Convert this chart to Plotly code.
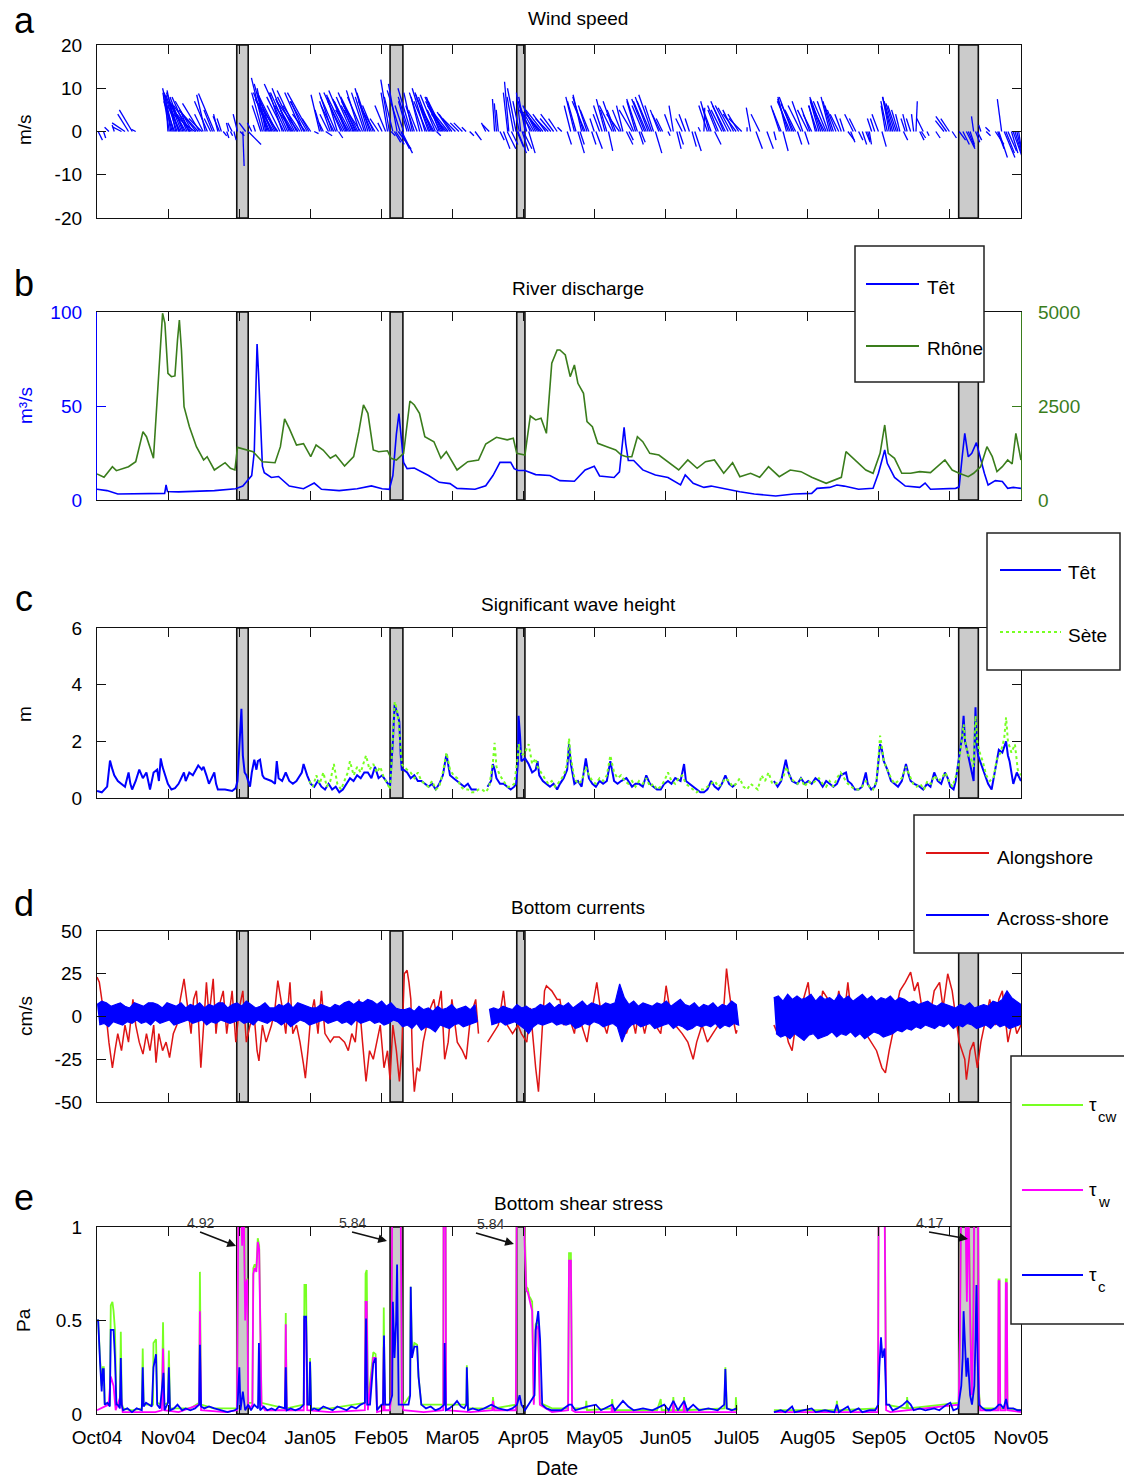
import plotly.graph_objects as go

# ---------------- data (days since start of record, Oct 2004) ----------------
month_labels = ["Oct04", "Nov04", "Dec04", "Jan05", "Feb05", "Mar05", "Apr05",
                "May05", "Jun05", "Jul05", "Aug05", "Sep05", "Oct05", "Nov05"]
N_DAYS = 396
storm_start = [59.9, 125.6, 179.9, 369.3]
storm_end = [64.8, 131.1, 183.4, 377.7]

# wind sticks: (day, u m/s, v m/s)
wind_sticks = [
    (0.5, 1, -2), (2.8, 0.5, -1.5), (5.1, -1, 1), (7.4, -0.5, 1.5), (10.5, -2, 1), (12.0, -3, 2),
    (13.5, -2.5, 4), (15.1, -3, 5), (16.6, -1, 0.5),
    (30.4, -0.5, 8), (31.6, -1, 6), (32.7, -2.5, 10), (33.7, -2, 9.5), (35.0, -3, 8.5), (35.7, -3, 6),
    (36.8, -3, 8), (38.0, -4, 7), (39.3, -2, 5), (40.3, -4, 6), (41.9, -5, 4), (43.4, -4.5, 5),
    (44.9, -3, 3), (46.4, -2, 8.5), (48.7, -1.5, 3), (50.3, -3.7, 8.8), (51.8, -1, 4), (53.3, -1, 3),
    (54.1, 0.8, -1), (55.6, 0.5, -1.5), (56.4, -0.5, 2), (57.9, -1, 2), (58.7, 0.5, -2),
    (60.2, -1, 4), (61.3, 1, -1), (62.5, 0.3, -8), (63.7, -1.5, 2), (64.8, 3, -3),
    (66.3, -1, 2), (67.9, -0.5, 1.5), (70.2, -2, 6), (71.7, -3, 12.4), (72.9, -3, 11), (74.0, -3, 7),
    (75.1, -4, 7.5), (76.3, -4, 8), (77.5, -5, 7), (79.4, -3, 9), (80.9, -5, 11), (82.4, -4, 10),
    (83.6, -4, 6), (84.7, -4, 8), (86.2, -5, 7), (87.8, -4, 9), (89.3, -3, 4), (90.8, -5, 9),
    (91.6, -2, 3), (93.1, 1, -0.5), (95.4, -2, 8.5), (97.0, -1, 2), (98.0, 1.5, -1), (99.2, -2, 4),
    (100.8, -3, 9), (102.3, -3.5, 8), (103.5, 1, -1.5), (104.6, -4, 9), (106.1, -4, 8), (107.2, -3, 7),
    (108.4, -4, 7.5), (109.7, -2, 5), (110.7, -4, 9), (111.8, -4, 8), (113.0, -4, 6), (114.6, -3, 9),
    (116.1, -3, 10), (117.6, -3, 7), (119.1, -3, 5), (120.7, -2, 3), (122.2, -1, 2), (123.7, -2.5, 6),
    (125.3, -2, 12), (126.0, 1, -1), (126.8, -2, 8), (128.0, 2, -3), (129.1, 3, -4), (129.9, -3, 9.5),
    (130.6, 2.5, -5), (131.4, -2, 6), (132.9, -2, 7), (134.5, -3, 10), (136.0, -2, 6), (138.3, -2, 8),
    (140.6, -3, 10), (142.1, -3, 8.5), (143.3, -3, 8), (144.4, -4, 7.5), (145.5, 1, -1), (146.7, -3, 8),
    (147.9, -4, 8), (149.0, -4, 6), (150.5, -4, 5), (152.1, -3, 4), (153.6, -3, 3), (155.1, -2, 2),
    (156.6, -2, 2), (158.2, -1, 1), (159.7, 1, -1), (162.0, 1.5, -2), (166.6, -1, 2), (168.1, -1.5, 1.5),
    (170.4, -0.5, 7.5), (172.0, -0.5, 5), (172.7, 1, -2), (174.2, 1.5, -4), (175.8, 2, -4),
    (176.5, -1, 11.5), (177.6, 1.5, -3), (179.6, -2, 10), (180.4, 2, -5), (181.6, -1, 9), (182.7, 2, -4),
    (184.2, -2, 7), (185.0, 1.5, -5), (186.5, -3, 5), (188.0, -3, 6), (189.6, -3, 4), (191.1, -4, 5),
    (193.4, -3, 3), (195.7, -3, 4), (197.2, -2, 3),
    (199.2, -1, 1), (201.5, 1, -3), (204.6, -2, 8), (206.1, 1.5, -5), (207.7, -2, 8.5), (209.2, -3, 7),
    (210.8, -2, 5), (213.1, -1, 3), (213.8, 1.5, -4), (215.4, -1.5, 4), (217.7, -2, 7.5), (219.2, 1, -4.5),
    (220.8, -3, 6), (222.3, -2, 5), (223.9, -3, 4), (225.4, -1.5, 6), (226.9, 1.5, -3), (229.3, -3, 5),
    (230.8, -2, 7), (231.6, -2.5, 7.5), (233.1, 1, -2.5), (234.7, -3, 7.5), (236.2, -3, 8), (237.7, -3, 8.5),
    (239.3, 1.5, -5), (240.8, -2, 5), (242.4, -1.5, 3), (244.7, 0.5, -1), (247.0, -1, 6), (248.5, 1, -4),
    (250.8, -1.5, 3), (253.9, -1, 3), (256.2, 1.5, -4.5), (258.6, -0.5, 1), (260.1, 0.2, 5.5),
    (261.6, -2, 6), (263.2, -2, 5.5), (264.7, 1.5, -3), (266.3, -2.5, 6), (267.8, -2.5, 5), (269.3, -3, 6),
    (271.7, -3, 5.5), (273.9, -3, 4), (276.3, -3, 3), (278.6, 0, 1), (280.1, -1, 5.5), (282.4, 1.5, -4),
    (284.0, -2, 4), (287.1, 1.5, -4), (290.1, 0.5, -2), (292.5, -2, 6), (294.0, 1.2, -4.5), (295.5, -2, 8),
    (297.1, -3, 7), (298.6, -3, 6.5), (300.2, 1, -3), (301.7, -3, 6), (303.3, 1, -3), (304.8, -2.5, 5),
    (306.3, -2, 4), (307.9, -1.5, 6), (309.4, -2, 7), (311.0, -3, 8), (312.5, -3, 7), (314.0, -2, 8),
    (315.6, -2, 6), (317.9, -2, 4), (320.2, -1, 3), (321.8, 1.5, -2), (324.1, -2, 4), (326.4, 1, -2),
    (329.5, 1, -2.5), (331.0, 0.5, -3), (333.3, -1, 3), (334.9, -1.5, 4), (336.4, 1, -3.5), (337.9, -1, 6),
    (339.5, -1.5, 8), (341.0, -2, 7), (342.6, -2, 6), (344.1, -1, 4), (345.6, 1, -2), (347.2, -1, 4),
    (348.7, -1, 3), (351.0, 0.3, 7), (352.6, 1, -2), (354.1, -1.5, 3), (355.7, 0.5, -1), (359.5, 1, -1.5),
    (364.1, -2.5, 3.5), (366.5, 1, -1.5), (369.5, 1.5, -2), (371.1, 1.5, -3), (372.6, 2, -4),
    (374.2, 1, -3), (375.7, -0.5, 3.5), (377.3, 1, -2), (378.8, -0.5, 1.5), (381.1, 1, -1), (382.6, -1, 1),
    (385.0, 2, -3), (386.5, 2, -6), (387.7, -1, 7.5), (388.8, 2.5, -6), (390.4, 2, -4.5), (391.9, 1.5, -5),
    (393.4, 2, -6.5), (395.0, 1, -6.5),
    (31.0, -1.5, 9), (32.2, -2, 8), (33.2, -2.5, 7), (34.3, -3, 9), (35.3, -2.5, 7), (36.2, -3.5, 9),
    (37.4, -3, 6.5), (38.6, -3.5, 8), (39.8, -3, 4), (40.9, -4, 7), (42.5, -4, 5), (44.0, -4, 6.5),
    (45.5, -2, 4), (47.3, -3, 7), (49.5, -2, 5), (52.5, -1.5, 3.5), (57.2, 0.5, -1),
    (70.9, -2.5, 9), (72.3, -2, 10), (73.5, -3.5, 9), (74.6, -3, 8.5), (75.7, -3.5, 6), (76.9, -4.5, 9),
    (78.4, -3, 6), (80.1, -4, 8), (81.7, -4, 9), (83.0, -3.5, 7.5), (84.1, -3, 5), (85.5, -4.5, 9.5),
    (87.0, -4, 6), (88.6, -3, 7), (90.1, -4, 7),
    (96.2, -1.5, 5), (100.0, -2.5, 7), (101.5, -3, 6), (103.0, -2.5, 8.5), (105.3, -3.5, 7), (106.7, -4, 9.5),
    (107.8, -3, 5), (109.0, -3.5, 8), (110.2, -3, 6), (111.2, -3.5, 7), (112.4, -3, 9.5), (113.8, -3.5, 8),
    (115.3, -2.5, 8), (116.9, -3, 9), (118.4, -2.5, 6), (124.5, -1.5, 9), (127.4, 1.5, -2.5),
    (128.6, -2, 11), (130.2, 2, -4),
    (133.7, -2.5, 8), (135.2, -2, 9), (137.2, -2, 5), (139.4, -3, 9), (141.3, -3, 7), (142.7, -3.5, 9),
    (143.9, -3, 6), (145.0, -3.5, 8.5), (146.1, -2.5, 5), (147.3, -3.5, 7), (148.4, -3.5, 7),
    (149.8, -3.5, 4), (151.3, -3, 4.5),
    (171.2, -0.5, 6.5), (176.0, -1, 9), (178.5, -1.5, 8), (180.0, 1.5, -3.5), (181.0, -1.5, 7),
    (182.2, 1.5, -4.5), (183.5, -1.5, 8), (185.7, -2.5, 6), (187.3, -2.5, 4.5), (188.8, -3, 5),
    (190.3, -3.5, 4), (192.3, -3, 4), (194.5, -2.5, 3),
    (203.0, -1.5, 6), (205.3, -2, 7), (207.0, 1, -3), (208.5, -2.5, 8), (210.0, -2, 6), (212.0, 1, -3),
    (216.5, -2, 6), (218.5, -1.5, 5), (221.5, -2.5, 7), (224.6, -2, 5), (228.0, 1, -2), (230.0, -2.5, 6),
    (232.3, 1, -3), (233.9, -2.5, 6), (235.4, -3, 7), (237.0, -3, 7), (238.5, -2, 6), (241.6, -2, 4),
    (246.0, -1.5, 4), (249.5, 1, -3), (252.2, -1.5, 4), (255.0, 1, -3.5), (262.4, -2, 7), (265.5, -2, 5),
    (268.6, -3, 7), (270.5, -3, 6), (272.8, -2.5, 5), (275.0, -2.5, 4),
    (293.2, -2, 5), (296.3, -2.5, 7.5), (297.9, -3, 8), (299.4, -2.5, 5), (302.5, -2.5, 7), (305.5, -2, 5.5),
    (308.6, -2, 6), (310.2, -2.5, 7.5), (311.8, -3, 6), (313.3, -2.5, 7), (314.8, -2, 7), (316.7, -2, 5),
    (319.0, -1.5, 4), (323.0, 1, -2.5), (325.2, -1.5, 3), (328.0, 1, -3), (330.3, 0.5, -2), (332.0, -1, 3),
    (338.7, -1.5, 7), (340.3, -2, 8), (341.8, -2, 6.5), (343.3, -1.5, 5), (346.4, -1, 3), (350.0, -0.5, 4),
    (353.3, 1, -1.5), (363.0, -2, 2.5), (365.3, -2, 3), (373.4, 1.5, -3.5), (376.5, 1, -2.5),
    (386.0, 1.5, -4), (389.5, 2, -5), (392.6, 2, -5.5), (394.2, 1.5, -6),
]

# river discharge (day, m3/s)
tet_discharge = [
    (0, 5.7), (4.3, 5.0), (8.9, 3.2), (22.7, 3.2), (29.0, 3.5), (29.6, 8.0), (30.2, 4.5), (31.9, 4.4),
    (35.0, 4.3), (50.3, 5.0), (59.4, 6.0), (62.5, 7.4), (66.3, 13), (67.4, 25.5), (68.6, 83), (69.2, 68),
    (69.9, 43), (70.9, 18), (71.7, 14.5), (74.7, 12), (77.8, 12.5), (79.3, 11), (82.4, 7.4), (88.5, 6),
    (93.1, 9), (96.2, 5.7), (103.8, 5), (111.5, 6), (117.6, 7.5), (122.2, 6), (125.3, 5.7), (126.8, 13),
    (128.3, 35), (129.4, 46), (130.2, 35), (131.4, 20), (132.9, 16.7), (136.0, 17), (142.1, 13),
    (146.7, 9.4), (151.3, 8.7), (154.3, 6.2), (162.0, 5.7), (166.6, 7.6), (169.7, 13), (172.7, 20),
    (177.3, 20), (178.8, 16.7), (180.4, 15.7), (183.4, 15.7), (188.0, 13.5), (194.1, 13), (198.4, 10.3),
    (204.6, 10), (209.2, 16), (213.1, 18), (215.4, 12.8), (221.6, 12), (223.9, 15), (225.0, 28),
    (225.9, 38.6), (226.6, 30), (227.7, 21), (230.0, 21), (233.9, 16), (239.3, 13.3), (244.7, 12),
    (250.1, 8), (252.1, 13.3), (255.5, 8.9), (260.1, 6.7), (263.2, 7.4), (269.4, 5.7), (275.5, 4.4),
    (281.7, 3.2), (290.9, 2.1), (298.6, 3.2), (306.3, 3.5), (308.6, 6.2), (314.0, 6.7), (317.1, 8),
    (320.2, 7.4), (326.4, 5.7), (332.6, 6.2), (334.9, 14.2), (336.9, 23), (337.6, 26.6), (338.7, 19.5),
    (341.8, 12), (346.4, 7.4), (352.6, 6.7), (354.9, 9), (357.2, 5.7), (368.0, 6.2), (369.5, 7),
    (370.8, 23), (371.9, 35.5), (373.4, 23), (374.9, 24.8), (376.9, 30.5), (378.0, 24.8), (380.3, 14.2),
    (381.9, 8), (385.0, 10.3), (388.0, 9.8), (390.3, 6.2), (392.7, 6.7), (396.0, 6.2),
]
rhone_discharge = [
    (0, 692), (3, 603), (6.6, 886), (8.3, 780), (13.5, 886), (16.6, 1019), (19.7, 1817), (21.2, 1684),
    (24.2, 1109), (25.8, 2748), (28.1, 4966), (29.1, 4700), (30.4, 3370), (31.9, 3280), (33.4, 3300),
    (34.5, 4256), (35.3, 4788), (36.2, 3990), (37.3, 2482), (39.6, 1950), (42.6, 1418), (45.7, 1064),
    (47.2, 1152), (50.3, 798), (54.9, 992), (57.2, 843), (59.1, 798), (60.2, 1400), (64, 1330),
    (66.9, 1285), (70.9, 1019), (76.3, 992), (78.6, 1418), (80.4, 2155), (82.4, 1906), (85.5, 1463),
    (88.5, 1500), (91.6, 1152), (93.9, 1463), (96.9, 1330), (100, 1109), (102.3, 1197), (106.1, 904),
    (110, 1152), (112.2, 1817), (114.2, 2527), (116.1, 2305), (118.4, 1330), (120.7, 1285), (124.5, 1310),
    (126, 1109), (128.3, 1064), (131.4, 1241), (134.1, 2633), (136, 2527), (138.2, 2305), (140.5, 1684),
    (144.4, 1550), (147.4, 1109), (149.7, 1285), (154.3, 798), (158.9, 1019), (163.5, 1064), (166.6, 1490),
    (171.2, 1667), (175.8, 1600), (178.4, 1640), (179.9, 1241), (183.4, 1197), (185.7, 2234), (188, 2128),
    (190.3, 2172), (192.6, 1773), (194.9, 3636), (197.2, 3990), (198.4, 3990), (200.7, 3857), (202.8, 3280),
    (204.6, 3591), (206.1, 3104), (208.5, 2838), (210, 2083), (212.3, 1950), (214.6, 1508), (218.5, 1418),
    (222.3, 1330), (224.7, 1197), (226.9, 1152), (229.2, 1152), (231.6, 1684), (233.9, 1551), (236.9, 1241),
    (240.8, 1197), (244.7, 1019), (249.3, 798), (253.2, 1064), (257.2, 843), (260.8, 1019), (264.6, 1064),
    (268.6, 710), (272.4, 992), (275.5, 620), (280.1, 710), (284, 603), (287.8, 886), (292.4, 620),
    (297.1, 798), (301.7, 754), (306.3, 603), (312.5, 443), (317.1, 549), (319, 603), (321, 1285),
    (324.9, 1064), (329.5, 798), (332.6, 710), (335.6, 1241), (337.6, 1995), (339.1, 1241), (341.8, 1109),
    (344.9, 710), (348.7, 710), (352.6, 754), (357.2, 730), (360.3, 886), (363.4, 1064), (366.5, 798),
    (369.5, 710), (373.4, 620), (375.7, 710), (378.7, 886), (381.4, 1418), (383.7, 1152), (385.7, 754),
    (388, 886), (390.3, 1064), (392.2, 957), (393.8, 1773), (396, 1064),
]

# significant wave height (day, m)
tet_hs = [
    (0, 0.25), (2.05, 0.2), (4.35, 0.4), (5.57, 1.32), (6.64, 1.0), (7.41, 0.8), (8.94, 0.6), (10.47, 0.5),
    (12.0, 0.4), (13.53, 0.9), (14.3, 0.5), (15.06, 0.3), (16.59, 0.6), (18.12, 1.0), (19.65, 0.7),
    (21.18, 0.9), (22.72, 0.3), (24.25, 0.9), (25.78, 1.0), (26.54, 0.6), (27.31, 1.4), (28.07, 1.1),
    (28.84, 0.9), (30.37, 0.5), (31.9, 0.3), (33.43, 0.35), (34.96, 0.5), (37.26, 0.9), (38.02, 0.6),
    (39.55, 0.9), (41.08, 0.8), (43.38, 1.15), (44.91, 1.0), (45.67, 1.1), (46.9, 0.8), (47.97, 0.5),
    (50.27, 0.9), (51.03, 0.5), (51.8, 0.3), (54.86, 0.3), (57.92, 0.25), (59.45, 0.35), (60.21, 0.6),
    (61.29, 2.0), (61.9, 3.15), (62.51, 1.5), (63.28, 0.9), (64.04, 0.8), (65.57, 0.4), (66.34, 0.9),
    (67.41, 1.35), (68.33, 1.0), (68.94, 1.3), (69.86, 1.35), (70.93, 0.8), (71.69, 0.7), (74.76, 0.6),
    (76.29, 0.5), (77.05, 1.3), (77.82, 0.7), (79.35, 0.6), (80.88, 0.9), (82.41, 0.6), (83.94, 0.5),
    (85.47, 0.6), (87.77, 0.9), (88.53, 1.2), (90.06, 0.8), (91.59, 0.5), (93.12, 0.4), (94.65, 0.6),
    (96.18, 0.4), (97.71, 0.3), (99.24, 0.5), (100.78, 0.3), (102.31, 0.4), (103.84, 0.2), (105.37, 0.3),
    (106.9, 0.5), (108.43, 0.7), (109.96, 0.6), (111.49, 0.8), (113.02, 0.7), (114.55, 0.9), (116.08, 0.9),
    (117.61, 0.7), (119.14, 1.1), (120.67, 0.7), (122.2, 0.8), (123.73, 0.6), (125.57, 0.4), (126.8, 2.0),
    (127.56, 3.3), (128.63, 3.0), (129.55, 2.7), (130.16, 1.5), (130.62, 1.0), (131.39, 1.0), (132.92, 0.9),
    (134.45, 0.7), (135.98, 0.8), (137.5, 0.6), (139.04, 0.6), (140.57, 0.5), (142.1, 0.4), (143.63, 0.5),
    (145.17, 0.3), (146.7, 0.5), (148.23, 0.8), (149.76, 1.55), (150.52, 1.2), (151.29, 0.8), (152.82, 0.7),
    (154.35, 0.6), (155.88, 0.5), (157.41, 0.4), (158.94, 0.5), (160.47, 0.3), (162.77, 0.3), (164.5, None),
    (167.36, 0.4), (168.89, 0.6), (169.65, 1.2), (170.42, 1.0), (171.18, 0.7), (172.71, 0.5), (174.24, 0.5),
    (175.78, 0.4), (177.31, 0.3), (178.84, 0.4), (179.6, 0.5), (180.37, 1.2), (180.67, 2.9), (181.3, 2.2),
    (181.9, 1.3), (183.43, 1.4), (184.96, 1.2), (186.49, 0.9), (188.02, 1.0), (188.79, 1.3), (189.55, 0.8),
    (191.08, 0.6), (192.61, 0.5), (194.14, 0.4), (195.67, 0.5), (197.2, 0.3),
    (198.4, 0.5), (200.0, 0.7), (201.5, 1.0), (202.3, 1.9), (203.1, 1.2), (204.6, 0.5), (206.1, 0.6),
    (207.7, 0.4), (209.5, 1.4), (210.8, 0.7), (212.3, 0.5), (213.8, 0.4), (215.4, 0.6), (216.9, 0.5),
    (218.5, 0.6), (220.0, 1.3), (221.6, 0.6), (223.1, 0.5), (224.6, 0.6), (226.9, 0.7), (229.3, 0.4),
    (230.8, 0.5), (232.3, 0.5), (233.9, 0.4), (235.4, 0.8), (237.0, 0.5), (238.5, 0.4), (240.0, 0.3),
    (241.6, 0.3), (243.1, 0.5), (244.7, 0.6), (246.2, 0.5), (247.8, 0.7), (250.1, 0.6), (251.6, 1.2),
    (252.4, 0.6), (253.9, 0.5), (255.5, 0.4), (257.0, 0.3), (258.6, 0.2), (260.1, 0.2), (261.6, 0.3),
    (263.2, 0.6), (264.7, 0.4), (266.3, 0.3), (267.8, 0.5), (269.3, 0.8), (270.9, 0.5), (272.4, 0.4),
    (273.9, 0.5), (280.0, None), (290.1, 0.6), (291.7, 0.4), (293.2, 0.6), (295.2, 1.35), (296.3, 0.9),
    (297.9, 0.6), (300.2, 0.5), (301.7, 0.7), (303.3, 0.5), (304.8, 0.6), (306.3, 0.5), (307.9, 0.7),
    (309.4, 0.6), (311.0, 0.4), (312.5, 0.6), (314.0, 0.5), (315.6, 0.4), (317.1, 0.5), (318.7, 0.8),
    (321.0, 0.9), (321.8, 0.6), (323.3, 0.5), (324.8, 0.3), (326.4, 0.3), (327.9, 0.4), (329.5, 0.9),
    (330.3, 0.5), (331.8, 0.3), (333.3, 0.4), (334.1, 0.6), (334.9, 1.3), (335.6, 1.9), (336.4, 1.7),
    (337.2, 1.3), (338.7, 1.0), (340.3, 0.6), (341.8, 0.5), (343.3, 0.4), (344.9, 0.6), (346.7, 1.2),
    (347.9, 0.8), (348.7, 0.6), (350.3, 0.5), (352.6, 0.4), (354.1, 0.3), (355.7, 0.5), (357.2, 0.4),
    (358.8, 0.9), (360.3, 0.6), (361.8, 0.5), (363.4, 0.9), (364.6, 0.7), (365.7, 0.4), (367.1, 0.3),
    (368.0, 0.6), (369.5, 1.5), (370.8, 2.2), (371.4, 2.9), (372.0, 2.0), (372.6, 1.8), (374.2, 1.2),
    (375.7, 0.6), (376.5, 3.2), (376.9, 2.0), (377.6, 1.5), (379.6, 1.0), (381.9, 0.5), (383.4, 0.3),
    (385.0, 1.0), (386.5, 1.7), (388.0, 1.6), (388.8, 1.8), (389.6, 2.0), (390.4, 1.5), (391.1, 1.3),
    (392.7, 0.5), (394.2, 0.9), (396.0, 0.6),
]
sete_hs = [
    (91, 0.6), (92.5, 0.4), (94, 0.8), (95.4, 0.5), (97, 0.9), (98.5, 0.4), (100, 0.6), (101.5, 1.2),
    (103, 0.5), (104.6, 0.3), (106, 0.6), (107.5, 0.9), (108.4, 1.3), (110, 0.8), (111.5, 1.1), (113, 0.9),
    (114.5, 1.3), (115.3, 1.5), (116.8, 1.0), (118.4, 1.2), (119.9, 0.9), (121.4, 1.1), (123, 0.7),
    (124.5, 0.5), (125.6, 0.3), (126.8, 2.2), (127.6, 3.4), (128.6, 3.1), (129.5, 2.5), (130.6, 1.2),
    (131.4, 1.1), (132.9, 1.0), (134.4, 0.9), (136, 0.7), (137.5, 0.9), (139, 0.6), (140.6, 0.5),
    (142.1, 0.4), (143.6, 0.6), (145.2, 0.3), (146.7, 0.4), (148.2, 0.9), (149.8, 1.6), (151.3, 1.0),
    (152.8, 0.8), (154.4, 0.7), (155.9, 0.4), (157.4, 0.3), (159, 0.3), (160.5, 0.2), (162, 0.2),
    (163.5, 0.3), (165, 0.3), (166.6, 0.2), (168.1, 0.4), (169.7, 1.3), (170.4, 1.95), (171.2, 1.1),
    (172.7, 0.8), (174.2, 0.6), (175.8, 0.4), (177.3, 0.4), (178.8, 0.5), (180.4, 1.5), (180.7, 1.9),
    (181.9, 1.5), (183.4, 1.6), (185, 1.9), (186.5, 1.2), (188, 1.4), (188.8, 1.1), (190.3, 0.9),
    (191.8, 0.7), (193.4, 0.5), (194.9, 0.6), (196.4, 0.4), (198.4, 0.6), (200, 0.8), (201.5, 1.2),
    (202.3, 2.1), (203.1, 1.4), (204.6, 0.7), (206.1, 0.5), (207.7, 0.6), (209.5, 1.1), (210.8, 0.8),
    (212.3, 0.6), (213.8, 0.5), (215.4, 0.7), (216.9, 0.6), (218.5, 0.8), (220, 1.5), (221.6, 0.9),
    (223.1, 0.7), (224.6, 0.8), (226.2, 0.6), (227.7, 0.5), (229.3, 0.6), (230.8, 0.4), (232.3, 0.6),
    (233.9, 0.5), (235.4, 0.7), (237, 0.4), (238.5, 0.5), (240, 0.3), (241.6, 0.4), (243.1, 0.6),
    (244.7, 0.9), (246.2, 0.6), (247.8, 0.5), (249.3, 0.7), (250.8, 0.8), (252.4, 0.5), (253.9, 0.4),
    (255.5, 0.3), (257, 0.2), (258.6, 0.3), (260.1, 0.3), (261.6, 0.4), (263.2, 0.5), (264.7, 0.6),
    (266.3, 0.4), (267.8, 0.5), (269.3, 0.7), (270.9, 0.6), (272.4, 0.4), (273.9, 0.5), (275.5, 0.7),
    (277, 0.4), (278.6, 0.3), (280.1, 0.5), (281.7, 0.4), (283.2, 0.3), (284.8, 0.8), (286.3, 0.6),
    (287.8, 0.9), (289.4, 0.5), (290.9, 0.5), (292.5, 0.6), (294, 0.7), (295.5, 1.1), (297.1, 0.7),
    (298.6, 0.6), (300.2, 0.5), (301.7, 0.7), (303.3, 0.4), (304.8, 0.6), (306.3, 0.5), (307.9, 0.6),
    (309.4, 0.7), (311, 0.5), (312.5, 0.4), (314, 0.6), (315.6, 0.4), (317.1, 0.7), (318.7, 0.9),
    (320.2, 0.7), (321.8, 0.5), (323.3, 0.4), (324.8, 0.3), (326.4, 0.3), (327.9, 0.4), (329.5, 0.6),
    (331, 0.4), (332.6, 0.3), (334.1, 0.6), (334.9, 1.4), (335.6, 2.2), (336.4, 1.8), (337.2, 1.3),
    (338.7, 1.0), (340.3, 0.7), (341.8, 0.5), (343.3, 0.6), (344.9, 0.7), (346.7, 1.1), (348.2, 0.8),
    (349.8, 0.5), (351.3, 0.4), (352.8, 0.5), (354.4, 0.3), (355.9, 0.6), (357.4, 0.5), (359, 0.8),
    (360.5, 0.6), (362, 0.7), (363.6, 0.9), (365.1, 0.6), (366.6, 0.4), (368.2, 0.8), (369.5, 1.3),
    (370.8, 2.1), (371.4, 2.6), (372.3, 1.9), (373.4, 1.5), (374.5, 1.4), (375.7, 1.1), (376.5, 2.9),
    (377.2, 2.0), (378.3, 1.6), (379.6, 1.3), (381.1, 0.8), (382.6, 0.6), (384.2, 0.7), (385.7, 1.4),
    (387.3, 1.6), (388.8, 2.1), (389.6, 2.85), (390.4, 2.0), (391.9, 1.6), (393.4, 1.9), (394.6, 1.0),
    (396, 0.8),
]

# bottom currents (cm/s)
alongshore = [
    (0, 23), (1.0, 20), (2.05, 10), (2.8, 5), (4.35, -5), (5.1, -15), (6.6, -30), (7.7, -20), (8.9, -10),
    (10.5, -20), (12, -5), (13.5, -15), (15.4, 10), (16.6, -5), (18.1, -15), (19.7, -22), (21.2, -10),
    (22.7, -20), (24.3, -5), (25.3, -27), (26.5, -10), (28.1, -20), (29.6, -15), (31.1, -24), (32.7, -10),
    (34.2, -5), (35.7, 10), (37.3, 22), (38.8, 5), (40.3, -10), (41.4, 10), (42.6, 15), (43.4, 0),
    (44.5, -30), (45.7, -5), (46.9, 20), (48, 0), (49.8, 22), (51, -10), (52.1, 5), (54.1, 15), (55.6, -10),
    (57.9, 15), (59.5, -15), (61, 5), (62.5, 15), (64, -15), (65.6, -5), (67.4, 0), (68.6, -20), (69.4, -26),
    (70.9, -5), (72.5, -15), (74.8, -5), (76.3, 5), (77.5, 21), (79.4, 5), (80.9, -10), (82.7, 20),
    (83.9, -10), (85.5, -5), (87, -15), (88.5, -28), (89.3, -36), (90.4, -20), (91.6, 0), (93.1, 10),
    (94.7, -10), (96.2, 15), (97.7, -10), (100, -15), (101.5, -12), (103.8, -12), (106.1, -15), (107.7, -20),
    (109.2, -10), (110.7, -15), (112.3, 10), (113.8, -15), (115.3, -38), (116.8, -20), (118.4, -25),
    (119.9, -15), (121.4, -5), (123, -30), (124.5, -20), (125.6, -37), (126.8, -5), (128.3, -20),
    (129.6, -38), (130.6, -20), (131.7, 25), (132.9, 27), (133.7, 20), (134.5, 10), (135.2, -25), (136, -44),
    (137.2, -30), (138.3, -32), (139.8, -15), (141.3, -5), (142.9, 5), (144.4, 10), (145.5, 0), (147.5, 15),
    (149, -25), (150.5, -15), (152.1, 10), (154.4, -15), (156.6, -20), (158.2, -25), (159.7, -5), (161.2, 5),
    (162.3, 10), (163.5, -10), (165, None), (167.4, -15), (169.7, -10), (172, -5), (174.2, 15), (175.8, -5),
    (178.1, -10), (180.4, -5), (181.9, -10), (184.2, -15), (185.7, 5), (187.3, -20), (188, -30), (189.2, -44),
    (190.3, -20), (191.8, 15), (192.6, 18), (194.9, 15), (197.2, 10),
    (198.4, 10), (200, -5), (202.3, 0), (204.6, -10), (206.1, 5), (207.7, -5), (210, -15), (212.3, 5),
    (214.2, 20), (216.2, 0), (218.5, -10), (220.8, 5), (223.1, -5), (225.4, 10), (226.9, -10), (229.3, 0),
    (230.8, -10), (232.3, 5), (234.7, -10), (237, 5), (239.3, -5), (241.6, -10), (243.9, 18), (245.4, 5),
    (247.8, -5), (250.8, -10), (253.2, -15), (255.5, -25), (257, -15), (259.3, -5), (261.6, -15),
    (263.9, -10), (266.3, -5), (268.6, 5), (269.8, 28), (270.9, 15), (272.4, 0), (273.9, -10), (274.3, -8),
    (282, None), (290.1, -5), (291.7, -10), (294, 0), (296.3, -15), (297.9, -20), (299.4, -5), (301.7, 5),
    (304.8, 20), (306.3, 0), (308.6, -10), (311, 15), (313.3, 10), (315.6, -5), (317.9, 15), (320.2, 0),
    (321.8, 20), (324.1, -10), (327.2, -5), (329.5, -10), (331.8, -15), (334.1, -20), (336.4, -30),
    (337.9, -33), (339.5, -20), (341, -10), (342.6, 5), (344.1, 15), (346.4, 20), (348.7, 26), (350.3, 15),
    (351.8, 20), (354.1, 0), (356.4, -5), (358.8, 15), (361.1, 20), (362.6, 5), (364.6, 25), (366.5, 15),
    (368, 0), (369.5, -15), (371.9, -25), (372.6, -37), (374.2, -20), (375.7, -15), (377.3, -30),
    (378.8, -15), (381.1, 0), (382.6, 10), (385, -5), (386.5, 10), (388, 15), (390.4, -15), (392.7, 0),
    (394.2, -10), (396, -5),
]
# across-shore current: highest and lowest value in each 2-day window
across_day = list(range(0, 397, 2))
across_hi = [
    7, 9, 8, 6, 7, 8, 6, 5, 8, 7,
    6, 8, 8, 7, 5, 8, 7, 6, 8, 5,
    7, 6, 8, 5, 7, 6, 8, 8, 5, 7,
    8, 6, 9, 7, 5, 6, 8, 5, 5, 7,
    6, 8, 5, 8, 7, 6, 5, 5, 7, 6,
    5, 7, 6, 8, 9, 7, 9, 8, 10, 9,
    7, 9, 6, 8, 5, 4, 4, 5, 3, 6,
    4, 5, 3, 6, 4, 5, 7, 4, 5, 6,
    4, 7, None, None, 4, 5, 4, 6, 5, 4,
    7, 5, 6, 4, 5, 7, 6, 8, 5, 7,
    6, 8, 5, 7, 9, 6, 8, 7, 6, 8,
    7, 8, 19, 11, 7, 9, 6, 8, 7, 6,
    8, 7, 9, 6, 8, 10, 7, 6, 8, 5,
    7, 6, 8, 5, 7, 6, 9, 7, None, None,
    None, None, None, None, None, 11, 12, 9, 13, 10,
    12, 10, 11, 13, 9, 12, 10, 11, 9, 13,
    10, 12, 9, 11, 13, 10, 12, 9, 11, 10,
    12, 9, 11, 10, 8, 9, 7, 8, 9, 7,
    6, 8, 7, 6, 5, 7, 6, 8, 5, 6,
    7, 6, 9, 8, 10, 15, 11, 9, 7,
]
across_lo = [
    -5, -4, -6, -3, -4, -5, -3, -4, -2, -4,
    -3, -5, -2, -4, -3, -2, -5, -4, -3, -2,
    -4, -3, -2, -5, -3, -4, -2, -3, -4, -3,
    -2, -4, -3, -5, -2, -3, -4, -2, -3, -5,
    -3, -6, -4, -2, -3, -5, -4, -3, -2, -4,
    -3, -2, -4, -3, -5, -2, -4, -3, -2, -4,
    -3, -5, -4, -2, -3, -6, -5, -7, -4, -8,
    -6, -7, -9, -5, -6, -7, -5, -4, -6, -5,
    -4, -3, None, None, -5, -4, -3, -5, -4, -3,
    -5, -7, -10, -6, -4, -5, -4, -3, -5, -4,
    -5, -4, -7, -6, -4, -5, -3, -4, -6, -5,
    -4, -6, -15, -8, -5, -4, -6, -5, -4, -7,
    -6, -5, -4, -7, -5, -6, -8, -7, -5, -6,
    -5, -6, -4, -7, -5, -6, -4, -5, None, None,
    None, None, None, None, None, -10, -12, -11, -13, -10,
    -12, -14, -11, -10, -13, -12, -11, -9, -12, -10,
    -11, -9, -12, -10, -13, -11, -9, -10, -12, -11,
    -10, -8, -9, -7, -8, -6, -7, -5, -6, -7,
    -5, -6, -4, -7, -5, -6, -4, -5, -7, -6,
    -5, -7, -4, -6, -5, -7, -6, -5, -4,
]

# bottom shear stress (Pa)
tau_cw = [
    (0, 0.5), (0.5, 0.5), (1.3, 0.3), (2.0, 0.15), (2.5, 0.25), (2.9, 0.25), (3.3, 0.06), (5.5, 0.05),
    (5.9, 0.58), (6.6, 0.6), (7.1, 0.55), (7.7, 0.45), (8.3, 0.06), (9.8, 0.05), (10.2, 0.44), (10.6, 0.06),
    (11.2, 0.03), (15, 0.02), (19.2, 0.03), (19.6, 0.35), (20.0, 0.05), (24, 0.05), (24.2, 0.38),
    (25.3, 0.4), (25.8, 0.06), (27.8, 0.05), (28.3, 0.49), (28.8, 0.05), (30.4, 0.06), (30.8, 0.34),
    (31.3, 0.03), (40, 0.03), (43.8, 0.06), (44.1, 0.76), (44.6, 0.05), (50, 0.03), (60.0, 0.03),
    (60.3, 1.0), (60.8, 1.6), (61.5, 1.4), (62.2, 1.0), (62.8, 1.3), (63.5, 0.6), (64.0, 0.72), (64.4, 0.72),
    (64.8, 0.06), (66.6, 0.06), (67.0, 0.78), (67.6, 0.8), (68.3, 0.78), (68.9, 0.94), (69.5, 0.9),
    (70.0, 0.5), (70.5, 0.06), (80.6, 0.03), (80.9, 0.54), (81.3, 0.03), (88.6, 0.05), (88.9, 0.69),
    (89.6, 0.69), (90.1, 0.05), (91.0, 0.05), (91.3, 0.3), (91.8, 0.03), (100, 0.03), (114.8, 0.06),
    (115.1, 0.75), (115.6, 0.77), (116.1, 0.06), (118.4, 0.33), (119.4, 0.32), (120, 0.03), (122.6, 0.05),
    (122.9, 0.57), (123.3, 0.05), (125.5, 0.05), (126.2, 0.1), (126.6, 1.6), (127.3, 1.5), (128, 1.4),
    (128.6, 1.6), (129.4, 1.7), (130.1, 1.3), (130.7, 0.08), (131.4, 0.05), (134.2, 0.1), (134.45, 0.68),
    (135, 0.32), (136, 0.38), (137.2, 0.37), (137.8, 0.2), (139, 0.05), (148.4, 0.05), (148.6, 1.6),
    (149.3, 1.6), (149.6, 0.05), (158.3, 0.05), (158.5, 0.26), (159, 0.03), (169.4, 0.03), (169.7, 0.09),
    (170.2, 0.03), (179.5, 0.05), (179.9, 1.3), (180.5, 1.6), (181.2, 1.5), (181.9, 1.1), (182.6, 1.5),
    (183.3, 1.0), (184.0, 0.68), (184.65, 0.67), (185.2, 0.63), (185.7, 0.62), (186.5, 0.6), (187.2, 0.06),
    (188, 0.48), (189.1, 0.5), (189.8, 0.06), (195, 0.03), (201.9, 0.03), (202.3, 0.86), (203.1, 0.86),
    (203.6, 0.03), (209.5, 0.03), (209.7, 0.07), (210, 0.02), (220.5, 0.03), (220.8, 0.08), (221.2, 0.02),
    (240, 0.02), (241.6, 0.08), (242, 0.02), (246.7, 0.02), (247, 0.09), (247.3, 0.02), (251.3, 0.02),
    (251.6, 0.09), (252, 0.02), (268.9, 0.03), (269.3, 0.25), (269.9, 0.03), (273.7, 0.02), (273.8, 0.09),
    (274.2, 0.02), (282, None), (290.1, 0.02), (316.8, 0.02), (317.1, 0.07), (317.5, 0.02), (334.7, 0.03),
    (335, 1.3), (335.8, 1.5), (336.6, 1.6), (337.5, 1.3), (337.9, 0.52), (338.2, 0.05), (346.9, 0.03),
    (347.2, 0.09), (347.6, 0.03), (369.3, 0.06), (369.8, 0.45), (370.4, 1.3), (371.0, 1.4), (371.6, 1.7),
    (372.2, 1.2), (372.8, 0.65), (373.4, 1.3), (373.9, 0.7), (374.3, 0.5), (374.9, 0.12), (375.6, 0.55),
    (376.1, 1.5), (376.8, 1.9), (377.5, 1.4), (378, 0.12), (378.5, 0.03), (386.2, 0.03), (386.4, 0.72),
    (386.8, 0.72), (387.1, 0.03), (389.3, 0.03), (389.5, 0.72), (389.9, 0.72), (390.2, 0.03), (396, 0.02),
]
tau_w = [
    (0, 0.02), (5, 0.05), (5.9, 0.2), (7.1, 0.15), (8, 0.02), (10.2, 0.1), (11, 0.01), (20, 0.01),
    (25, 0.01), (27.8, 0.02), (28.3, 0.35), (28.8, 0.02), (35, 0.01), (43.8, 0.05), (44.1, 0.55),
    (44.6, 0.02), (55, 0.01), (60.0, 0.02), (60.3, 0.9), (60.8, 1.5), (61.5, 1.3), (62.2, 0.9), (62.8, 1.2),
    (63.5, 0.5), (64.0, 0.7), (64.4, 0.72), (64.8, 0.05), (65.5, 0.03), (66.6, 0.05), (67.0, 0.75),
    (67.6, 0.78), (68.3, 0.76), (68.9, 0.92), (69.5, 0.88), (70.0, 0.45), (70.5, 0.05), (72, 0.02),
    (80.6, 0.02), (80.9, 0.48), (81.3, 0.02), (88.6, 0.02), (88.9, 0.5), (89.6, 0.5), (90.1, 0.02),
    (100, 0.01), (114.8, 0.02), (115.1, 0.6), (115.6, 0.6), (116.1, 0.02), (118.4, 0.3), (119.4, 0.3),
    (120, 0.01), (122.6, 0.02), (122.9, 0.36), (123.3, 0.02), (125.5, 0.02), (126.2, 0.1), (126.6, 1.5),
    (127.3, 1.4), (128, 1.3), (128.6, 1.5), (129.4, 1.6), (130.1, 1.2), (130.7, 0.05), (131.4, 0.02),
    (140, 0.01), (148.4, 0.02), (148.6, 1.5), (149.3, 1.5), (149.6, 0.02), (160, 0.01), (169.4, 0.02),
    (169.7, 0.07), (170.2, 0.02), (179.5, 0.02), (179.9, 1.2), (180.5, 1.5), (181.2, 1.4), (181.9, 1.0),
    (182.6, 1.4), (183.3, 0.9), (184.0, 0.66), (184.65, 0.65), (185.2, 0.62), (185.7, 0.6), (186.5, 0.55),
    (187.2, 0.05), (188.0, 0.45), (189.1, 0.47), (189.8, 0.05), (195, 0.01), (201.9, 0.02), (202.3, 0.82),
    (203.1, 0.82), (203.6, 0.02), (205, 0.01), (220.5, 0.01), (220.8, 0.05), (221.2, 0.01), (246.8, 0.01),
    (247, 0.07), (247.3, 0.01), (251.4, 0.01), (251.6, 0.07), (251.9, 0.01), (274.2, 0.01), (282, None),
    (290.1, 0.01), (334.7, 0.01), (335, 1.2), (335.8, 1.4), (336.6, 1.5), (337.5, 1.2), (337.9, 0.5),
    (338.2, 0.02), (340, 0.01), (369.3, 0.05), (369.8, 0.4), (370.4, 1.2), (371.0, 1.3), (371.6, 1.6),
    (372.2, 1.1), (372.8, 0.6), (373.4, 1.2), (373.9, 0.65), (374.3, 0.45), (374.9, 0.1), (375.6, 0.5),
    (376.1, 1.4), (376.8, 1.8), (377.5, 1.3), (378.0, 0.1), (378.5, 0.02), (386.2, 0.02), (386.4, 0.71),
    (386.8, 0.71), (387.1, 0.02), (389.3, 0.02), (389.5, 0.7), (389.9, 0.7), (390.2, 0.02), (396, 0.01),
]
tau_c = [
    (0, 0.5), (0.5, 0.5), (1.3, 0.28), (2.0, 0.12), (2.5, 0.24), (2.9, 0.24), (3.3, 0.05), (4.5, 0.06),
    (5.5, 0.04), (5.9, 0.45), (7.1, 0.45), (7.7, 0.3), (8.3, 0.05), (8.9, 0.05), (9.8, 0.03), (10.2, 0.3),
    (10.6, 0.05), (11.2, 0.02), (13, 0.03), (15, 0.01), (17, 0.03), (19.2, 0.02), (19.6, 0.25), (20.0, 0.04),
    (21, 0.06), (23.5, 0.04), (24.2, 0.25), (25.3, 0.32), (25.8, 0.05), (27, 0.03), (28.5, 0.22),
    (29.0, 0.02), (30.4, 0.06), (30.8, 0.25), (31.3, 0.02), (33, 0.03), (34.5, 0.05), (36.5, 0.02),
    (38, 0.03), (40, 0.02), (42, 0.03), (43.8, 0.05), (44.1, 0.37), (44.6, 0.04), (46, 0.03), (48, 0.04),
    (50.3, 0.03), (53, 0.02), (56, 0.01), (59, 0.02), (60.2, 0.03), (61.0, 0.25), (61.5, 0.02),
    (62.5, 0.12), (63.5, 0.02), (64.8, 0.05), (66, 0.02), (67.4, 0.05), (69.0, 0.03), (69.4, 0.38),
    (69.9, 0.02), (71.5, 0.04), (73, 0.02), (74.8, 0.03), (76.5, 0.02), (78, 0.04), (80.5, 0.03),
    (80.9, 0.25), (81.3, 0.02), (83, 0.03), (85, 0.02), (87, 0.03), (88.6, 0.05), (88.8, 0.52), (89.6, 0.52),
    (90.2, 0.05), (91.0, 0.05), (91.3, 0.28), (91.8, 0.02), (93, 0.03), (95, 0.02), (97, 0.04), (99, 0.03),
    (101, 0.02), (103, 0.04), (105, 0.03), (107, 0.02), (109, 0.04), (111, 0.03), (113, 0.05),
    (114.8, 0.06), (115.3, 0.51), (115.8, 0.05), (117, 0.05), (118.4, 0.27), (119.4, 0.30), (120.0, 0.02),
    (121.9, 0.05), (122.6, 0.05), (123.0, 0.42), (123.5, 0.05), (125.3, 0.05), (126.5, 0.1), (126.8, 0.6),
    (127.5, 0.3), (128.2, 0.5), (128.6, 0.8), (129.3, 0.05), (130.6, 0.05), (132.2, 0.05), (133.5, 0.05),
    (134.2, 0.1), (134.45, 0.68), (135.0, 0.3), (136.0, 0.36), (137.2, 0.36), (137.8, 0.2), (139, 0.05),
    (141, 0.03), (143, 0.04), (145, 0.02), (147, 0.03), (148.8, 0.05), (149.0, 0.38), (149.5, 0.02),
    (151, 0.03), (153, 0.05), (154.3, 0.07), (156, 0.04), (157.4, 0.03), (158.3, 0.05), (158.5, 0.25),
    (159.0, 0.02), (161, 0.03), (163.5, 0.02), (166, 0.03), (169, 0.05), (172, 0.03), (175.8, 0.02),
    (178, 0.03), (180, 0.05), (181.1, 0.1), (181.9, 0.05), (183.4, 0.02), (184.96, 0.05), (187.5, 0.1),
    (188.0, 0.45), (189.1, 0.55), (189.9, 0.4), (190.8, 0.05), (192.6, 0.03), (195, 0.02), (197.2, 0.02),
    (199, 0.02), (202.3, 0.05), (203.4, 0.05), (205, 0.02), (210, 0.04), (213.8, 0.05), (216, 0.02),
    (220.8, 0.05), (222, 0.02), (225.4, 0.07), (227.7, 0.04), (230, 0.02), (234, 0.03), (238, 0.02),
    (243.1, 0.05), (245, 0.02), (247, 0.07), (249, 0.02), (251.6, 0.07), (253, 0.02), (255.5, 0.05),
    (258, 0.02), (262, 0.03), (266, 0.02), (268.8, 0.05), (269.3, 0.24), (269.9, 0.03), (272, 0.02),
    (274.2, 0.03), (282, None), (290.1, 0.01), (293, 0.02), (295, 0.01), (297.9, 0.04), (299, 0.01),
    (303, 0.02), (306.3, 0.03), (308, 0.01), (312, 0.02), (316, 0.01), (317.1, 0.05), (318, 0.01),
    (321.8, 0.04), (323, 0.01), (326.4, 0.03), (328, 0.01), (331, 0.02), (333.5, 0.02), (334.8, 0.05),
    (335.3, 0.25), (336.0, 0.41), (336.6, 0.3), (337.5, 0.35), (338.3, 0.05), (339.5, 0.05), (341, 0.02),
    (343, 0.03), (345.5, 0.05), (347.2, 0.07), (348.7, 0.05), (350, 0.02), (352.6, 0.03), (355, 0.02),
    (358.8, 0.03), (361, 0.02), (364.1, 0.05), (365.7, 0.06), (367, 0.02), (369, 0.03), (370.4, 0.15),
    (371.0, 0.3), (371.4, 0.55), (372.0, 0.4), (372.6, 0.2), (373.2, 0.3), (374.2, 0.1), (375.0, 0.05),
    (376.0, 0.15), (376.5, 0.4), (376.9, 0.69), (377.4, 0.3), (378.0, 0.05), (379.6, 0.03), (381, 0.02),
    (383, 0.02), (385, 0.03), (386.5, 0.05), (387.3, 0.05), (388.5, 0.03), (389.6, 0.08), (390.4, 0.03),
    (392.7, 0.03), (394.5, 0.02), (396, 0.02),
]
# off-scale storm maxima (Pa) marked with arrows
peak_days = [59.6, 124.3, 178.7, 373.3]
peak_values = [0.898, 0.925, 0.909, 0.936]
peak_labels = ["4.92", "5.84", "5.84", "4.17"]

# ---------------- styling / layout ----------------
W, H = 1124, 1483
FONT = "Liberation Sans, Arial, Helvetica, sans-serif"
FS = 19
BLUE = "#0000ff"
GREEN_R = "#3a7d1c"
RED = "#dd1515"
MAGENTA = "#ff00ff"
LGREEN = "#77ff22"
STICK_SCALE = 1.84  # days per m/s along x for wind sticks


def px(x):
    return x / W


def py(y):
    return 1 - y / H


panel_px = [(45, 218), (312, 500), (628, 798), (931, 1102), (1227, 1414)]
XDOM = [px(97), px(1021)]
tick_days = [i * N_DAYS / 13 for i in range(14)]


def split(pairs):
    return [p[0] for p in pairs], [p[1] for p in pairs]


fig = go.Figure()

# panel a: wind sticks
wx, wy = [], []
for d, u, v in sorted(wind_sticks):
    wx += [d, d + u * STICK_SCALE, None]
    wy += [0, v, None]
fig.add_trace(go.Scatter(x=wx, y=wy, mode="lines", line=dict(color=BLUE, width=1.3),
                         xaxis="x", yaxis="y", name="Wind", showlegend=False))

# panel b: discharge
x, y = split(rhone_discharge)
fig.add_trace(go.Scatter(x=x, y=y, mode="lines", line=dict(color=GREEN_R, width=1.6),
                         xaxis="x2", yaxis="y6", name="Rhône", showlegend=False))
x, y = split(tet_discharge)
fig.add_trace(go.Scatter(x=x, y=y, mode="lines", line=dict(color=BLUE, width=1.6),
                         xaxis="x2", yaxis="y2", name="Têt", showlegend=False))

# panel c: waves
x, y = split(tet_hs)
fig.add_trace(go.Scatter(x=x, y=y, mode="lines", line=dict(color=BLUE, width=2),
                         xaxis="x3", yaxis="y3", name="Têt", showlegend=False))
x, y = split(sete_hs)
fig.add_trace(go.Scatter(x=x, y=y, mode="lines", line=dict(color=LGREEN, width=2, dash="dot"),
                         xaxis="x3", yaxis="y3", name="Sète", showlegend=False))

# panel d: currents
x, y = split(alongshore)
fig.add_trace(go.Scatter(x=x, y=y, mode="lines", line=dict(color=RED, width=1.5),
                         xaxis="x4", yaxis="y4", name="Alongshore", showlegend=False))
# across-shore drawn as the band between its 2-day highs and lows
segments, cur = [], []
for d, hi, lo in zip(across_day, across_hi, across_lo):
    if hi is None or lo is None:
        if cur:
            segments.append(cur)
        cur = []
        continue
    cur.append((d, hi, lo))
if cur:
    segments.append(cur)
for seg in segments:
    bx = [s[0] for s in seg] + [s[0] + 1 for s in reversed(seg)]
    by = [s[1] for s in seg] + [s[2] for s in reversed(seg)]
    fig.add_trace(go.Scatter(x=bx, y=by, mode="lines", fill="toself", fillcolor=BLUE,
                             line=dict(color=BLUE, width=1.2), xaxis="x4", yaxis="y4",
                             name="Across-shore", showlegend=False))

# panel e: shear stress
for arr, col, nm in [(tau_cw, LGREEN, "τcw"), (tau_w, MAGENTA, "τw"), (tau_c, BLUE, "τc")]:
    x, y = split(arr)
    fig.add_trace(go.Scatter(x=x, y=y, mode="lines", line=dict(color=col, width=1.8),
                             xaxis="x5", yaxis="y5", name=nm, showlegend=False))

axis_common = dict(showgrid=False, zeroline=False, showline=True, linecolor="#111", linewidth=1.3,
                   ticks="inside", ticklen=9, tickwidth=1.2, tickcolor="#111", automargin=False,
                   tickfont=dict(family=FONT, size=FS, color="black"))

layout = dict(width=W, height=H, autosize=False, margin=dict(l=0, r=0, t=0, b=0, pad=0),
              paper_bgcolor="white", plot_bgcolor="white", showlegend=False,
              font=dict(family=FONT, size=FS, color="black"))

ytick_sets = [
    ([-20, -10, 0, 10, 20], ["-20", "-10", "0", "10", "20"], [-20, 20]),
    ([0, 50, 100], ["0", "50", "100"], [0, 100]),
    ([0, 2, 4, 6], ["0", "2", "4", "6"], [0, 6]),
    ([-50, -25, 0, 25, 50], ["-50", "-25", "0", "25", "50"], [-50, 50]),
    ([0, 0.5, 1], ["0", "0.5", "1"], [0, 1]),
]

for i, (top, bot) in enumerate(panel_px):
    k = i + 1
    xs = "" if k == 1 else str(k)
    xa = dict(axis_common)
    xa.update(domain=XDOM, range=[0, N_DAYS], anchor="y" + xs, tickmode="array",
              tickvals=tick_days, ticktext=month_labels, showticklabels=(k == 5),
              mirror="ticks", ticklabelstandoff=6)
    layout["xaxis" + xs] = xa
    ya = dict(axis_common)
    tv, tt, rg = ytick_sets[i]
    ya.update(domain=[py(bot), py(top)], range=rg, anchor="x" + xs, tickmode="array",
              tickvals=tv, ticktext=tt, mirror="ticks", ticklabelstandoff=10)
    if k == 2:
        ya.update(mirror=False, linecolor=BLUE, tickcolor=BLUE, tickfont=dict(family=FONT, size=FS, color=BLUE))
    layout["yaxis" + xs] = ya

ya6 = dict(axis_common)
ya6.update(overlaying="y2", side="right", anchor="x2", range=[0, 5000], tickmode="array",
           tickvals=[0, 2500, 5000], ticktext=["0", "2500", "5000"], linecolor=GREEN_R,
           tickcolor=GREEN_R, tickfont=dict(family=FONT, size=FS, color=GREEN_R), ticklabelstandoff=12)
layout["yaxis6"] = ya6
fig.update_layout(**layout)

shapes = []
# storm bands on every panel
for i in range(5):
    xs = "" if i == 0 else str(i + 1)
    for s, e in zip(storm_start, storm_end):
        shapes.append(dict(type="rect", xref="x" + xs, yref="y" + xs + " domain", x0=s, x1=e, y0=0, y1=1,
                           fillcolor="#cbcbcb", line=dict(color="#111", width=1.6), layer="below"))

annotations = []


def ann(xp, yp, text, size=FS, color="black", xanchor="center", yanchor="middle", angle=0):
    annotations.append(dict(xref="paper", yref="paper", x=px(xp), y=py(yp), text=text, showarrow=False,
                            font=dict(family=FONT, size=size, color=color), xanchor=xanchor,
                            yanchor=yanchor, textangle=angle))


# legend boxes: entries are (line x0, line x1, line y, colour, dash, label x, label, label y, subscript)
def legend(box, entries):
    x0, y0, x1, y1 = box
    shapes.append(dict(type="rect", xref="paper", yref="paper", x0=px(x0), x1=px(x1), y0=py(y1), y1=py(y0),
                       fillcolor="white", line=dict(color="#222", width=1.5), layer="above"))
    for (lx0, lx1, ly, col, dash, tx, txt, ty, sub) in entries:
        shapes.append(dict(type="line", xref="paper", yref="paper", x0=px(lx0), x1=px(lx1), y0=py(ly),
                           y1=py(ly), line=dict(color=col, width=1.8, dash=dash), layer="above"))
        ann(tx, ty, txt, xanchor="left")
        if sub:
            ann(tx + 9, ty + 12, sub, size=15, xanchor="left")


legend((855, 246, 984, 382), [
    (866, 919, 284, BLUE, "solid", 925, "Têt", 287, ""),
    (866, 919, 346, GREEN_R, "solid", 925, "Rhône", 348, ""),
])
legend((987, 533, 1120, 670), [
    (1000, 1061, 570, BLUE, "solid", 1066, "Têt", 573, ""),
    (1000, 1061, 632, LGREEN, "dot", 1066, "Sète", 635, ""),
])
legend((914, 815, 1126, 953), [
    (926, 989, 853, RED, "solid", 995, "Alongshore", 857, ""),
    (926, 989, 915, BLUE, "solid", 995, "Across-shore", 918, ""),
])
legend((1011, 1056, 1126, 1324), [
    (1022, 1083, 1105, LGREEN, "solid", 1087, "τ", 1104, "cw"),
    (1022, 1083, 1190, MAGENTA, "solid", 1087, "τ", 1189, "w"),
    (1022, 1083, 1275, BLUE, "solid", 1087, "τ", 1274, "c"),
])

# panel titles and letters
titles = ["Wind speed", "River discharge", "Significant wave height", "Bottom currents", "Bottom shear stress"]
title_y = [19, 288, 604, 908, 1203]
letters = ["a", "b", "c", "d", "e"]
letter_y = [20, 283, 598, 903, 1197]
for t, ty, l, ly in zip(titles, title_y, letters, letter_y):
    ann(578, ty, t)
    ann(24, ly, l, size=36)

# y-axis titles
ann(25, 130, "m/s", angle=-90)
ann(25, 406, "m³/s", angle=-90, color=BLUE)
ann(24, 714, "m", angle=-90)
ann(25, 1016, "cm/s", angle=-90)
ann(23, 1320, "Pa", angle=-90)
ann(557, 1468, "Date", size=20)

# peak stress labels with arrows (text sits at the arrow tail)
arrow_tails = [(-36, -14, "center"), (-35, -9, "center"), (-38, -11, "left"), (-39, -7, "center")]
for d, v, lab, (ax, ay, xa) in zip(peak_days, peak_values, peak_labels, arrow_tails):
    annotations.append(dict(xref="x5", yref="y5", x=d, y=v, ax=ax, ay=ay, text=lab, showarrow=True,
                            arrowhead=2, arrowsize=1.1, arrowwidth=1.6, arrowcolor="#111",
                            xanchor=xa, yanchor="bottom", borderpad=0,
                            font=dict(family=FONT, size=14, color="#333")))

fig.update_layout(shapes=shapes, annotations=annotations)
fig.write_html("out.html")
